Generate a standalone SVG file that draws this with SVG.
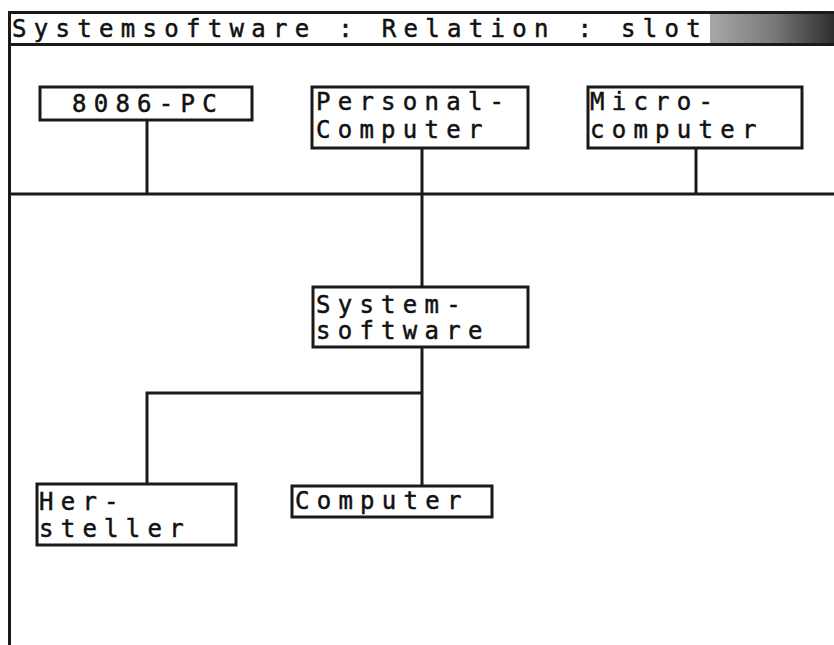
<svg xmlns="http://www.w3.org/2000/svg" width="834" height="645" viewBox="0 0 834 645">
<defs>
<linearGradient id="bar" x1="0" y1="0" x2="1" y2="0">
<stop offset="0" stop-color="#a8a8a8"/>
<stop offset="0.5" stop-color="#7a7a7a"/>
<stop offset="1" stop-color="#2e2e2e"/>
</linearGradient>
<style>
.t{font-family:"DejaVu Sans Mono","Liberation Mono",monospace;font-size:24px;letter-spacing:7.25px;fill:#111;stroke:#111;stroke-width:0.5}
.tt{font-family:"DejaVu Sans Mono","Liberation Mono",monospace;font-size:24px;letter-spacing:7.3px;fill:#111;stroke:#111;stroke-width:0.5}
.box{fill:#fff;stroke:#1a1a1a;stroke-width:3}
.ln{stroke:#1a1a1a;stroke-width:3;fill:none}
</style>
</defs>
<rect width="834" height="645" fill="#fff"/>
<g id="titlebar">
<rect x="710" y="13" width="124" height="31" fill="url(#bar)"/>
<line class="ln" x1="9" y1="12.5" x2="834" y2="12.5"/>
<line class="ln" x1="9" y1="44.5" x2="834" y2="44.5"/>
<text class="tt" x="12" y="37">Systemsoftware : Relation : slot</text>
</g>
<g id="connectors">
<line class="ln" x1="9.5" y1="11" x2="9.5" y2="645"/>
<line class="ln" x1="9" y1="194" x2="834" y2="194"/>
<line class="ln" x1="147" y1="120" x2="147" y2="194"/>
<line class="ln" x1="422" y1="148" x2="422" y2="287"/>
<line class="ln" x1="696" y1="148" x2="696" y2="194"/>
<line class="ln" x1="422" y1="347" x2="422" y2="486"/>
<polyline class="ln" points="422,393 147,393 147,484"/>
</g>
<g id="n8086pc">
<rect class="box" x="40" y="87" width="212" height="33"/>
<text class="t" x="72" y="112">8086-PC</text>
</g>
<g id="personalcomputer">
<rect class="box" x="312" y="87" width="216" height="61"/>
<text class="t" x="316" y="110">Personal-</text>
<text class="t" x="316" y="138">Computer</text>
</g>
<g id="microcomputer">
<rect class="box" x="588" y="87" width="214" height="61"/>
<text class="t" x="590" y="110">Micro-</text>
<text class="t" x="590" y="138">computer</text>
</g>
<g id="systemsoftware">
<rect class="box" x="313" y="287" width="215" height="60"/>
<text class="t" x="316" y="313">System-</text>
<text class="t" x="316" y="339">software</text>
</g>
<g id="hersteller">
<rect class="box" x="37" y="484" width="199" height="61"/>
<text class="t" x="39" y="510">Her-</text>
<text class="t" x="39" y="537">steller</text>
</g>
<g id="computer">
<rect class="box" x="292" y="486" width="200" height="31"/>
<text class="t" x="295" y="509">Computer</text>
</g>
</svg>
